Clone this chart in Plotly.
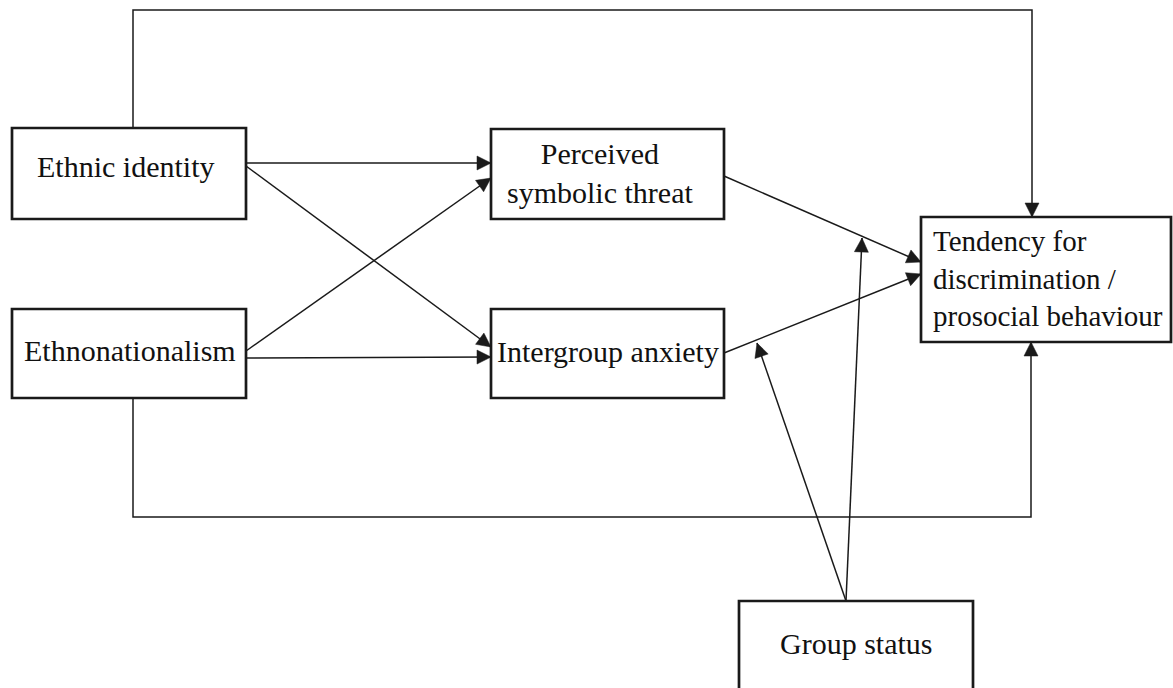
import math
import plotly.graph_objects as go

# ---- Diagram data (pixel coordinates of the canvas) ----
node_labels = [
    "Ethnic identity",
    "Ethnonationalism",
    "Perceived<br>symbolic threat",
    "Intergroup anxiety",
    "Tendency for<br>discrimination /<br>prosocial behaviour",
    "Group status",
]
box_x0 = [12, 12, 491, 491, 921, 739]
box_x1 = [246, 246, 724, 724, 1171, 973]
box_y0 = [128, 309, 129, 309, 217, 601]
box_y1 = [219, 398, 219, 398, 342, 700]
label_x = [125, 130, 600, 608, 931, 856]
label_y = [166.5, 350, 173, 351, 278, 643]
label_size = [30, 30, 30, 30, 29, 30]
label_align = ["center", "center", "center", "center", "left", "center"]

edge_x = [
    [246, 491],
    [246, 491],
    [246, 491],
    [246, 491],
    [724, 921],
    [724, 921],
    [846, 862],
    [846, 757],
    [133, 133, 1032, 1032],
    [133, 133, 1031, 1031],
]
edge_y = [
    [163, 163],
    [166, 347],
    [351, 178],
    [358, 357],
    [176, 262],
    [353, 274],
    [601, 238],
    [601, 343],
    [128, 10, 10, 217],
    [398, 517, 517, 342],
]

W, H = 1173, 688
LINE = "#1a1a1a"
HEAD_LEN, HEAD_HALF = 14, 7

fig = go.Figure()
shapes = []
annotations = []

# boxes
for x0, x1, y0, y1 in zip(box_x0, box_x1, box_y0, box_y1):
    shapes.append(dict(type="rect", xref="x", yref="y", x0=x0, x1=x1, y0=y0, y1=y1,
                       line=dict(color=LINE, width=2.7), fillcolor="white", layer="above"))

# edges with arrowheads
for xs, ys in zip(edge_x, edge_y):
    fig.add_trace(go.Scatter(x=xs, y=ys, mode="lines",
                             line=dict(color=LINE, width=1.5),
                             hoverinfo="skip", showlegend=False))
    tx, ty = xs[-1], ys[-1]
    px, py = xs[-2], ys[-2]
    d = math.hypot(tx - px, ty - py)
    ux, uy = (tx - px) / d, (ty - py) / d
    bx, by = tx - ux * HEAD_LEN, ty - uy * HEAD_LEN
    nx, ny = -uy, ux
    p1 = (bx + nx * HEAD_HALF, by + ny * HEAD_HALF)
    p2 = (bx - nx * HEAD_HALF, by - ny * HEAD_HALF)
    shapes.append(dict(type="path", xref="x", yref="y",
                       path=f"M{tx},{ty} L{p1[0]},{p1[1]} L{p2[0]},{p2[1]} Z",
                       fillcolor=LINE, line=dict(color=LINE, width=0.5), layer="above"))

# labels
for lab, lx, ly, sz, al in zip(node_labels, label_x, label_y, label_size, label_align):
    annotations.append(dict(x=lx, y=ly, xref="x", yref="y", text=lab, showarrow=False,
                            xanchor="left" if al == "left" else "center", yanchor="middle",
                            align=al,
                            font=dict(family="Liberation Serif, Times New Roman, serif",
                                      size=sz, color="#111111")))

fig.update_layout(
    width=W, height=H, autosize=False,
    margin=dict(l=0, r=0, t=0, b=0),
    paper_bgcolor="white", plot_bgcolor="white",
    xaxis=dict(range=[0, W], visible=False, fixedrange=True),
    yaxis=dict(range=[H, 0], visible=False, fixedrange=True),
    shapes=shapes, annotations=annotations, showlegend=False,
)

fig.write_html("out.html", config={"displayModeBar": False},
               post_script="document.body.style.margin='0';")
